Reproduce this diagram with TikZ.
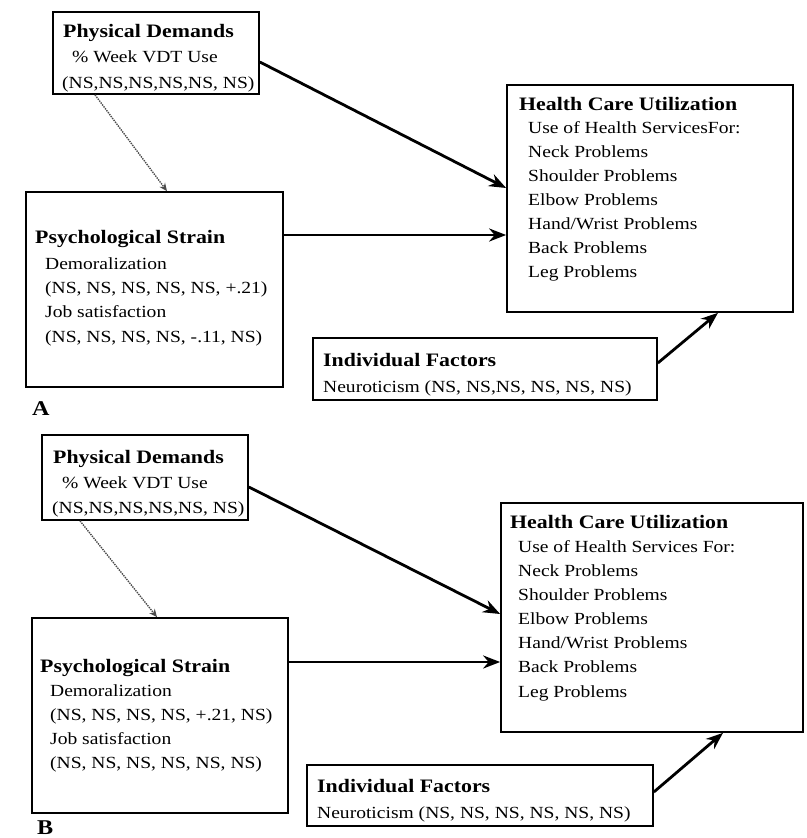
\documentclass[tikz,border=0pt]{standalone}
\usepackage{fontspec}
\setmainfont{Liberation Serif}[FakeStretch=1.15]
\usetikzlibrary{arrows.meta}

\begin{document}
\begin{tikzpicture}[
    x=1pt, y=-1pt,
    >=Stealth,
    box/.style={draw, line width=1.7pt, inner sep=0pt},
    head/.style={anchor=base west, inner sep=0pt, font=\fontsize{19}{22}\selectfont\bfseries},
    body/.style={anchor=base west, inner sep=0pt, align=left, font=\fontsize{17}{24.3}\selectfont},
    panel/.style={anchor=base west, inner sep=0pt, font=\fontsize{21}{24}\selectfont\bfseries},
    arr/.style={-{Stealth[length=17pt, width=13pt]}, line width=2.8pt},
    dotarr/.style={-{Stealth[length=8pt, width=7pt]}, densely dotted, line width=1.4pt, black!70}
  ]
  \useasboundingbox (0,0) rectangle (806,838);

  % ---- A ----
  % Physical demands
  \node[box, minimum width=206, minimum height=82] (pda) at (156,53) {};
  \node[head] (pdah) at (63,37) {Physical Demands};
  \node[body, font=\fontsize{17}{26}\selectfont] (pdat) at (62,88) {\hspace*{10pt}\% Week VDT Use\\(NS,NS,NS,NS,NS, NS)};

  % Psychological strain
  \node[box, minimum width=257, minimum height=195] (psa) at (154.5,289.5) {};
  \node[head] (psah) at (35,243) {Psychological Strain};
  \node[body] (psat) at (45,342) {Demoralization\\(NS, NS, NS, NS, NS, +.21)\\Job satisfaction\\(NS, NS, NS, NS, -.11, NS)};

  % Health care utilization
  \node[box, minimum width=286, minimum height=227] (hca) at (650,198.5) {};
  \node[head] (hcah) at (519,110) {Health Care Utilization};
  \node[body, font=\fontsize{17}{23.9}\selectfont] (hcat) at (528,277) {Use of Health ServicesFor:\\Neck Problems\\Shoulder Problems\\Elbow Problems\\Hand/Wrist Problems\\Back Problems\\Leg Problems};

  % Individual factors
  \node[box, minimum width=344, minimum height=62] (ifa) at (485,369) {};
  \node[head] (ifah) at (323,366) {Individual Factors};
  \node[body] (ifat) at (323,392) {Neuroticism (NS, NS,NS, NS, NS, NS)};

  \node[panel] (laba) at (32,415) {A};

  % Arrows
  \draw[dotarr] ([xshift=-61pt]pda.south) -- ([xshift=12.5pt]psa.north);
  \draw[arr] ([yshift=-9pt]pda.east) -- ([yshift=10.5pt]hca.west);
  \draw[arr] ([yshift=54.5pt]psa.east) -- ([yshift=-36.5pt]hca.west);
  \draw[arr] ([yshift=6pt]ifa.east) -- ([xshift=68pt]hca.south);

  % ---- B ----
  % Physical demands
  \node[box, minimum width=206, minimum height=85] (pdb) at (145,477.5) {};
  \node[head] (pdbh) at (53,463) {Physical Demands};
  \node[body, font=\fontsize{17}{25}\selectfont] (pdbt) at (52,513) {\hspace*{10pt}\% Week VDT Use\\(NS,NS,NS,NS,NS, NS)};

  % Psychological strain
  \node[box, minimum width=256, minimum height=195] (psb) at (160,715.5) {};
  \node[head] (psbh) at (40,672) {Psychological Strain};
  \node[body, font=\fontsize{17}{23.7}\selectfont] (psbt) at (50,768) {Demoralization\\(NS, NS, NS, NS, +.21, NS)\\Job satisfaction\\(NS, NS, NS, NS, NS, NS)};

  % Health care utilization
  \node[box, minimum width=302, minimum height=229] (hcb) at (652,617.5) {};
  \node[head] (hcbh) at (510,528) {Health Care Utilization};
  \node[body, font=\fontsize{17}{24.1}\selectfont] (hcbt) at (518,697) {Use of Health Services For:\\Neck Problems\\Shoulder Problems\\Elbow Problems\\Hand/Wrist Problems\\Back Problems\\Leg Problems};

  % Individual factors
  \node[box, minimum width=346, minimum height=61] (ifb) at (480,795.5) {};
  \node[head] (ifbh) at (317,792) {Individual Factors};
  \node[body] (ifbt) at (317,818) {Neuroticism (NS, NS, NS, NS, NS, NS)};

  \node[panel] (labb) at (37,834) {B};

  % Arrows
  \draw[dotarr] ([xshift=-65pt]pdb.south) -- ([xshift=-3pt]psb.north);
  \draw[arr] ([yshift=-9.5pt]pdb.east) -- ([yshift=3.5pt]hcb.west);
  \draw[arr] ([yshift=53.5pt]psb.east) -- ([yshift=-44.5pt]hcb.west);
  \draw[arr] ([yshift=3.5pt]ifb.east) -- ([xshift=71pt]hcb.south);
\end{tikzpicture}
\end{document}
